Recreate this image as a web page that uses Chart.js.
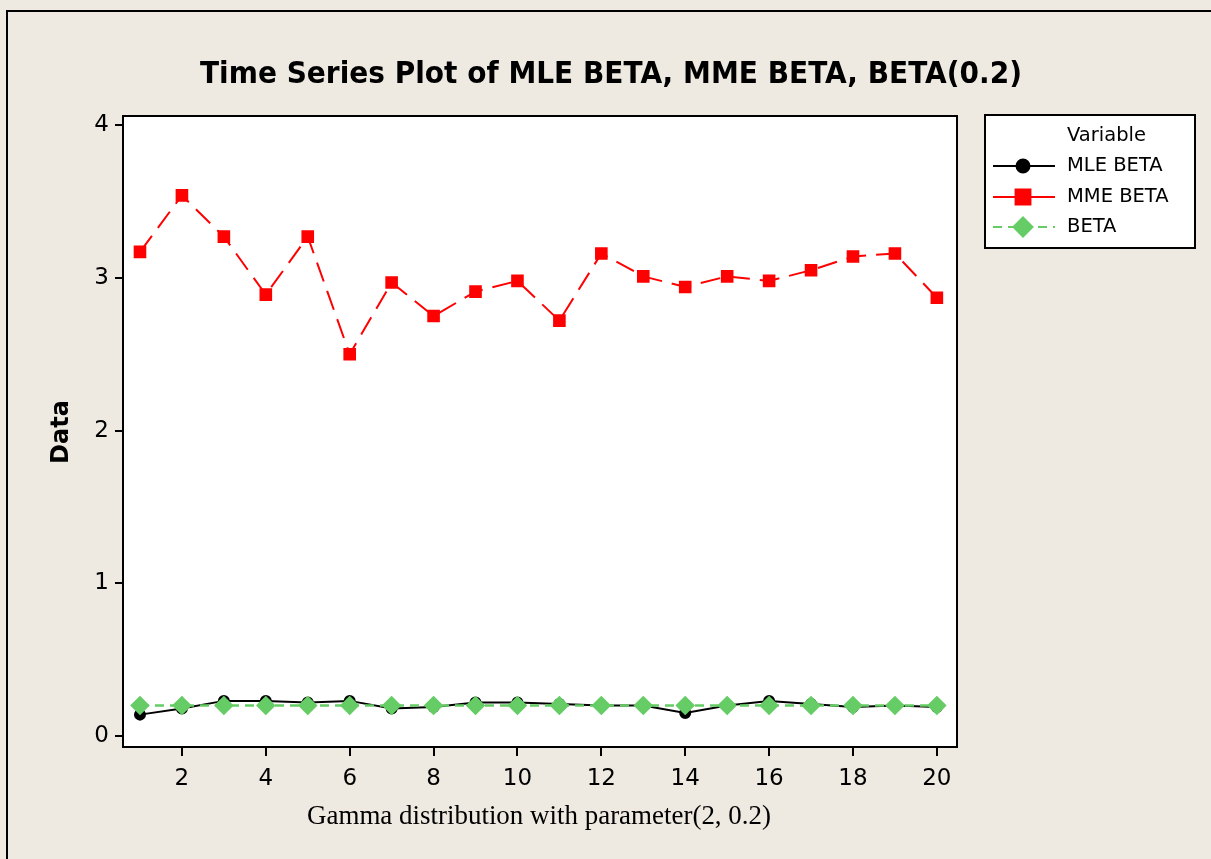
<!DOCTYPE html>
<html>
<head>
<meta charset="utf-8">
<script src="https://cdn.jsdelivr.net/npm/chart.js@4/dist/chart.umd.min.js"></script>
<style>
  html, body { margin: 0; padding: 0; background: #eeeae1; }
  #wrap { width: 1211px; height: 859px; position: relative; }
</style>
</head>
<body>
<div id="wrap"><canvas id="tsChart" width="1211" height="859"></canvas></div>
<script>
// values
const indexes = [1, 2, 3, 4, 5, 6, 7, 8, 9, 10, 11, 12, 13, 14, 15, 16, 17, 18, 19, 20];
const mleBeta = [0.14, 0.18, 0.23, 0.23, 0.22, 0.23, 0.18, 0.19, 0.22, 0.22, 0.21, 0.20, 0.20, 0.15, 0.20, 0.23, 0.21, 0.19, 0.20, 0.19];
const mmeBeta = [3.17, 3.54, 3.27, 2.89, 3.27, 2.50, 2.97, 2.75, 2.91, 2.98, 2.72, 3.16, 3.01, 2.94, 3.01, 2.98, 3.05, 3.14, 3.16, 2.87];
const trueBeta = [0.2, 0.2, 0.2, 0.2, 0.2, 0.2, 0.2, 0.2, 0.2, 0.2, 0.2, 0.2, 0.2, 0.2, 0.2, 0.2, 0.2, 0.2, 0.2, 0.2];
const xTicks = [2, 4, 6, 8, 10, 12, 14, 16, 18, 20];
const yTicks = [0, 1, 2, 3, 4];

const chartTitle = 'Time Series Plot of MLE BETA, MME BETA, BETA(0.2)';
const xTitle = 'Gamma distribution with parameter(2, 0.2)';
const yTitle = 'Data';
const legendTitle = 'Variable';
const legendNames = ['MLE BETA', 'MME BETA', 'BETA'];

const toPoints = arr => arr.map((v, i) => ({ x: indexes[i], y: v }));

// draws page background, frame, plot border, titles and the legend box
const decorations = {
    id: 'decorations',
    beforeDraw(chart) {
        const ctx = chart.ctx;
        const a = chart.chartArea;
        ctx.save();
        ctx.fillStyle = '#eeeae1';
        ctx.fillRect(0, 0, chart.width, chart.height);
        ctx.strokeStyle = '#000';
        ctx.lineWidth = 2;
        ctx.strokeRect(7, 11, chart.width + 20, chart.height + 20);
        ctx.fillStyle = '#ffffff';
        ctx.fillRect(a.left, a.top, a.right - a.left, a.bottom - a.top);
        ctx.restore();
    },
    afterDraw(chart) {
        const ctx = chart.ctx;
        const a = chart.chartArea;
        ctx.save();
        ctx.strokeStyle = '#000';
        ctx.lineWidth = 2;
        ctx.strokeRect(a.left, a.top, a.right - a.left, a.bottom - a.top);

        // main title, squeezed to reference width
        ctx.fillStyle = '#000';
        ctx.textAlign = 'center';
        ctx.textBaseline = 'middle';
        ctx.font = 'bold 30px "DejaVu Sans"';
        let w = ctx.measureText(chartTitle).width;
        ctx.save();
        ctx.translate(611, 75);
        ctx.scale(Math.min(1, 822 / w), 1);
        ctx.fillText(chartTitle, 0, 0);
        ctx.restore();

        // x title (serif)
        ctx.font = '27px "Liberation Serif"';
        w = ctx.measureText(xTitle).width;
        ctx.save();
        ctx.translate(539, 817);
        ctx.scale(Math.min(1, 464 / w), 1);
        ctx.fillText(xTitle, 0, 0);
        ctx.restore();

        // y title
        ctx.font = 'bold 24px "DejaVu Sans"';
        ctx.save();
        ctx.translate(62, 432);
        ctx.rotate(-Math.PI / 2);
        ctx.fillText(yTitle, 0, 0);
        ctx.restore();

        // legend box
        const lx = 985, ly = 115, lw = 210, lh = 133;
        ctx.fillStyle = '#fff';
        ctx.fillRect(lx, ly, lw, lh);
        ctx.strokeRect(lx, ly, lw, lh);
        ctx.fillStyle = '#000';
        ctx.textAlign = 'left';
        ctx.font = '19.5px "DejaVu Sans"';
        ctx.fillText(legendTitle, 1067, 136);
        const rowY = [166, 197, 227];
        chart.data.datasets.forEach((ds, i) => {
            const y = rowY[i];
            ctx.save();
            ctx.strokeStyle = ds.borderColor;
            ctx.lineWidth = 2;
            ctx.setLineDash(ds.legendDash || []);
            ctx.beginPath();
            ctx.moveTo(993, y);
            ctx.lineTo(1055, y);
            ctx.stroke();
            ctx.restore();
            ctx.save();
            ctx.fillStyle = ds.pointBackgroundColor;
            ctx.strokeStyle = ds.pointBackgroundColor;
            Chart.helpers.drawPoint(ctx, {
                pointStyle: ds.pointStyle,
                rotation: 0,
                borderWidth: 1,
                radius: ds.legendRadius
            }, 1023, y);
            ctx.restore();
            ctx.fillStyle = '#000';
            ctx.fillText(legendNames[i], 1067, y);
        });
        ctx.restore();
    }
};

const ctx = document.getElementById('tsChart').getContext('2d');
const chart = new Chart(ctx, {
    type: 'line',
    data: {
        datasets: [
            {
                label: legendNames[0],
                data: toPoints(mleBeta),
                borderColor: '#000000',
                borderWidth: 2,
                pointStyle: 'circle',
                pointRadius: 5,
                pointBackgroundColor: '#000000',
                pointBorderColor: '#000000',
                legendRadius: 6.5,
                order: 3
            },
            {
                label: legendNames[1],
                data: toPoints(mmeBeta),
                borderColor: '#ff0000',
                borderWidth: 2,
                borderDash: [20, 10],
                legendDash: [],
                pointStyle: 'rect',
                pointRadius: 7.5,
                pointBackgroundColor: '#ff0000',
                pointBorderColor: '#ff0000',
                legendRadius: 10.5,
                order: 2
            },
            {
                label: legendNames[2],
                data: toPoints(trueBeta),
                borderColor: '#66cc66',
                borderWidth: 2.5,
                borderDash: [9, 6],
                legendDash: [9, 6],
                pointStyle: 'rectRot',
                pointRadius: 8,
                pointBackgroundColor: '#66cc66',
                pointBorderColor: '#66cc66',
                legendRadius: 9.5,
                order: 1
            }
        ]
    },
    options: {
        responsive: false,
        animation: false,
        layout: { padding: { left: 0, top: 116, right: 254, bottom: 0 } },
        elements: { line: { tension: 0 } },
        scales: {
            x: {
                type: 'linear',
                min: 0.595,
                max: 20.48,
                afterBuildTicks: axis => { axis.ticks = xTicks.map(v => ({ value: v })); },
                afterFit: axis => { axis.height = 112; },
                border: { display: false },
                grid: { drawOnChartArea: false, drawTicks: true, tickLength: 9, color: '#000', lineWidth: 2 },
                ticks: { color: '#000', padding: 9, maxRotation: 0, font: { family: 'DejaVu Sans', size: 23 } }
            },
            y: {
                type: 'linear',
                min: -0.072,
                max: 4.06,
                afterBuildTicks: axis => { axis.ticks = yTicks.map(v => ({ value: v })); },
                afterFit: axis => { axis.width = 123; },
                border: { display: false },
                grid: { drawOnChartArea: false, drawTicks: true, tickLength: 8, color: '#000', lineWidth: 2 },
                ticks: { color: '#000', padding: 6, font: { family: 'DejaVu Sans', size: 23 } }
            }
        },
        plugins: {
            legend: { display: false },
            title: { display: false },
            tooltip: { enabled: false }
        }
    },
    plugins: [decorations]
});
</script>
</body>
</html>
